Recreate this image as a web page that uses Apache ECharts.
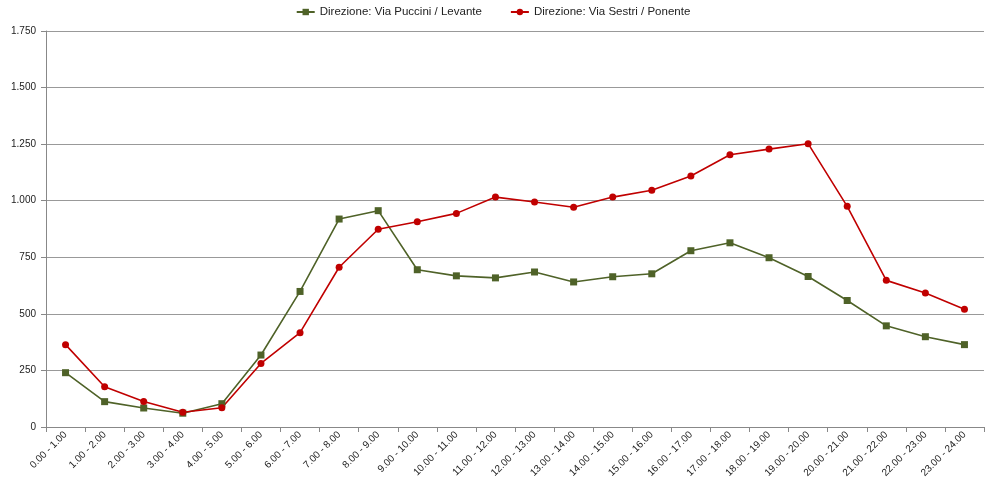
<!DOCTYPE html>
<html><head><meta charset="utf-8">
<script src="https://cdn.jsdelivr.net/npm/echarts@6/dist/echarts.min.js"></script>
<style>html,body{margin:0;padding:0;background:#fff}#c{width:986px;height:494px}</style>
</head><body><div id="c"></div>
<script>
const categories = ["0.00 - 1.00","1.00 - 2.00","2.00 - 3.00","3.00 - 4.00","4.00 - 5.00","5.00 - 6.00","6.00 - 7.00","7.00 - 8.00","8.00 - 9.00","9.00 - 10.00","10.00 - 11.00","11.00 - 12.00","12.00 - 13.00","13.00 - 14.00","14.00 - 15.00","15.00 - 16.00","16.00 - 17.00","17.00 - 18.00","18.00 - 19.00","19.00 - 20.00","20.00 - 21.00","21.00 - 22.00","22.00 - 23.00","23.00 - 24.00"];
const seriesNames = ["Direzione: Via Puccini / Levante","Direzione: Via Sestri / Ponente"];
const levante = [240,112,84,61,103,318,599,919,956,695,668,659,685,641,664,677,779,814,748,665,559,447,399,364];
const ponente = [364,178,113,65,85,281,417,706,874,907,944,1016,994,971,1016,1046,1109,1203,1228,1252,975,648,592,520];

const chart = echarts.init(document.getElementById('c'));
const font = "'Liberation Sans', Arial, sans-serif";
chart.setOption({
  animation:false,
  legend:{top:1,left:'center',itemGap:28,itemWidth:18,itemHeight:8,
    textStyle:{fontFamily:font,fontSize:11.5,color:'#222'},data:seriesNames},
  grid:{left:46,right:2,top:31,bottom:67},
  xAxis:{type:'category',data:categories,boundaryGap:true,
    axisLine:{lineStyle:{color:'#888'}},
    axisTick:{show:true,interval:0,length:5,lineStyle:{color:'#888'}},
    axisLabel:{interval:0,rotate:45,fontFamily:font,fontSize:10,color:'#222',margin:6}},
  yAxis:{type:'value',min:0,max:1750,interval:250,
    axisLine:{show:true,lineStyle:{color:'#888'}},
    axisTick:{show:true,length:5,lineStyle:{color:'#888'}},
    splitLine:{lineStyle:{color:'#999'}},
    axisLabel:{fontFamily:font,fontSize:10,color:'#222',margin:10,
      formatter:v=>String(v).replace(/\B(?=(\d{3})+(?!\d))/g,'.')}},
  series:[
    {name:seriesNames[0],type:'line',data:levante,symbol:'rect',symbolSize:7,
     itemStyle:{color:'#4F6228'},lineStyle:{color:'#4F6228',width:1.6}},
    {name:seriesNames[1],type:'line',data:ponente,symbol:'circle',symbolSize:7,
     itemStyle:{color:'#C00000'},lineStyle:{color:'#C00000',width:1.6}}
  ]
});
</script></body></html>
